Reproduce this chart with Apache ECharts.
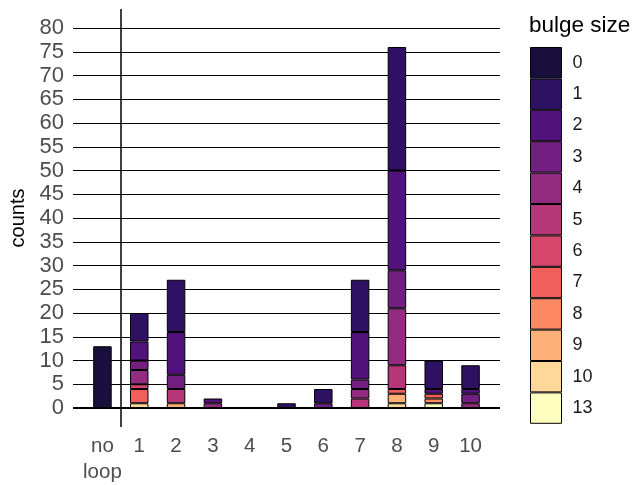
<!DOCTYPE html>
<html>
<head>
<meta charset="utf-8">
<script src="https://cdn.jsdelivr.net/npm/echarts@6/dist/echarts.min.js"></script>
<style>
html,body{margin:0;padding:0;background:#fff;}
#chart{width:637px;height:485px;}
</style>
</head>
<body>
<div id="chart"></div>
<script>
// categories (loop length)
const categories = ['no\nloop', '1', '2', '3', '4', '5', '6', '7', '8', '9', '10'];
// bulge sizes (legend order) and colours
const sizes = ['0', '1', '2', '3', '4', '5', '6', '7', '8', '9', '10', '13'];
const colors = ['#180F3D', '#2E1162', '#51127C', '#721F81', '#932B80', '#B63679',
                '#D8456C', '#F1605D', '#FC8961', '#FEB078', '#FED799', '#FCFDBF'];
// counts per category for each bulge size
const size0  = [13, 0, 0, 0, 0, 0, 0, 0, 0, 0, 0];
const size1  = [0, 6, 11, 0, 0, 1, 3, 11, 26, 6, 5];
const size2  = [0, 4, 9, 1, 0, 0, 0, 10, 21, 1, 1];
const size3  = [0, 2, 3, 0, 0, 0, 1, 2, 8, 0, 2];
const size4  = [0, 3, 0, 1, 0, 0, 0, 2, 12, 0, 1];
const size5  = [0, 0, 3, 0, 0, 0, 0, 2, 5, 0, 0];
const size6  = [0, 1, 0, 0, 0, 0, 0, 0, 0, 0, 0];
const size7  = [0, 3, 0, 0, 0, 0, 0, 0, 1, 1, 0];
const size8  = [0, 0, 0, 0, 0, 0, 0, 0, 0, 1, 0];
const size9  = [0, 0, 1, 0, 0, 0, 0, 0, 2, 0, 0];
const size10 = [0, 1, 0, 0, 0, 0, 0, 0, 1, 0, 0];
const size13 = [0, 0, 0, 0, 0, 0, 0, 0, 0, 1, 0];
// y tick labels
const yTicks = [0, 5, 10, 15, 20, 25, 30, 35, 40, 45, 50, 55, 60, 65, 70, 75, 80];
const xTicks = categories.map((c, i) => i);

const countsBySize = [size0, size1, size2, size3, size4, size5, size6, size7, size8, size9, size10, size13];

const FONT = '"Liberation Sans", Arial, Helvetica, sans-serif';

// stack from largest bulge size (bottom) to smallest (top)
const series = [];
for (let k = sizes.length - 1; k >= 0; k--) {
  series.push({
    name: sizes[k],
    type: 'bar',
    stack: 'all',
    barWidth: 18.5,
    z: 2,
    encode: { x: 1, y: 0 },
    itemStyle: { color: colors[k], borderColor: '#000', borderWidth: 1 },
    data: countsBySize[k].map((v, i) => [v ? v : null, i])
  });
}
series[0].markLine = {
  silent: true,
  z: 1,
  symbol: ['none', 'none'],
  label: { show: false },
  lineStyle: { color: '#000', width: 1.2, type: 'solid' },
  emphasis: { disabled: true },
  data: yTicks.map(v => (v === 0
      ? { yAxis: v, lineStyle: { color: '#000', width: 2, type: 'solid' } }
      : { yAxis: v }))
    .concat([{ xAxis: 0.5, lineStyle: { color: '#000', width: 1.5, type: 'solid' } }])
};

const option = {
  animation: false,
  textStyle: { fontFamily: FONT },
  title: {
    text: 'bulge size',
    left: 529, top: 14, padding: 0,
    textStyle: { fontFamily: FONT, fontSize: 22.5, fontWeight: 'normal', color: '#000' }
  },
  legend: {
    orient: 'vertical',
    left: 530, top: 47, padding: 0,
    itemWidth: 31, itemHeight: 30.4, itemGap: 0,
    icon: 'rect',
    selectedMode: false,
    data: sizes,
    itemStyle: { borderColor: '#000', borderWidth: 1 },
    textStyle: { fontFamily: FONT, fontSize: 18, color: '#1A1A1A', padding: [0, 0, 0, 6] }
  },
  grid: { left: 72, right: 137, top: 9, bottom: 56, containLabel: false },
  xAxis: {
    type: 'value',
    min: -0.8, max: 10.8,
    axisLine: { show: false },
    axisTick: { show: false },
    splitLine: { show: false },
    axisLabel: {
      customValues: xTicks,
      formatter: v => categories[Math.round(v)],
      fontFamily: FONT, fontSize: 20.5, lineHeight: 26, color: '#4D4D4D', margin: 6
    }
  },
  yAxis: {
    type: 'value',
    min: -4, max: 84,
    name: 'counts',
    nameLocation: 'middle',
    nameGap: 45,
    nameTextStyle: { fontFamily: FONT, fontSize: 20, color: '#000' },
    axisLine: { show: false },
    axisTick: { show: true, length: 4, customValues: yTicks, lineStyle: { color: '#333', width: 1 } },
    splitLine: { show: false },
    axisLabel: { customValues: yTicks, fontFamily: FONT, fontSize: 22, color: '#4D4D4D', margin: 9 }
  },
  series: series
};

const chart = echarts.init(document.getElementById('chart'), null, { renderer: 'canvas' });
chart.setOption(option);
</script>
</body>
</html>
